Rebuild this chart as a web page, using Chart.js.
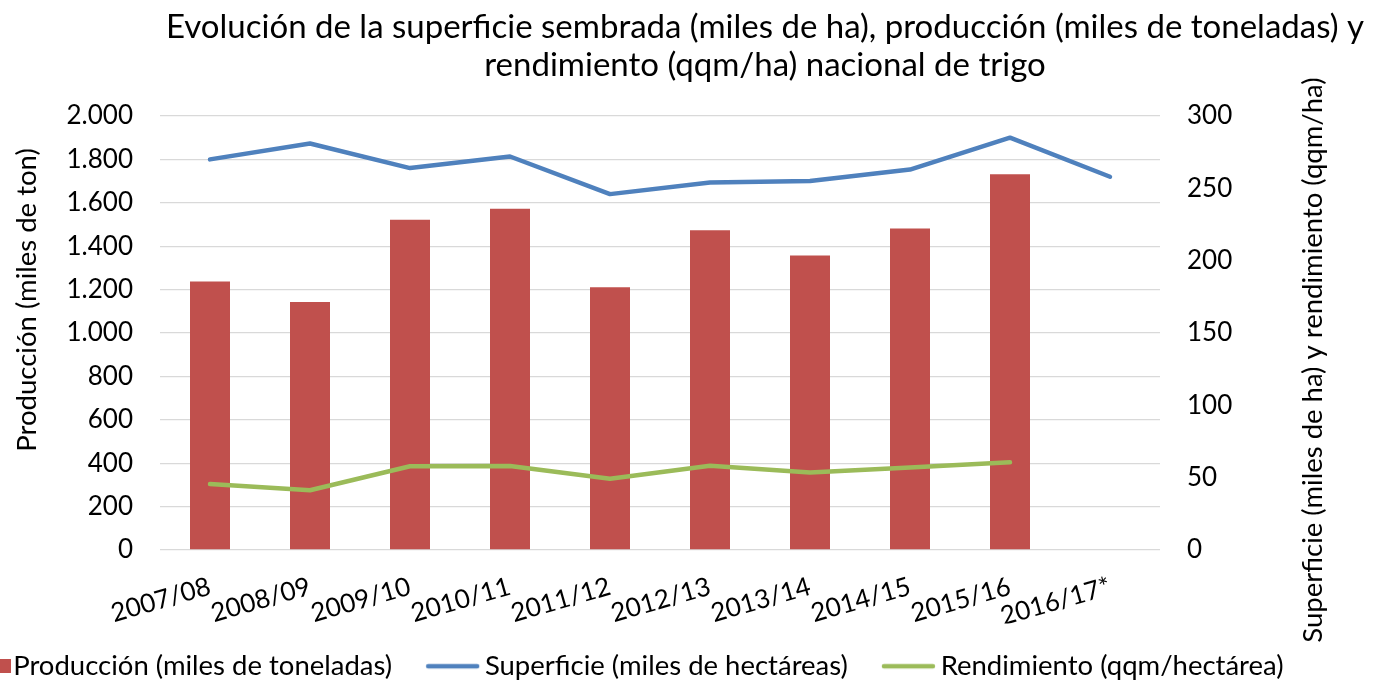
<!DOCTYPE html>
<html>
<head>
<meta charset="utf-8">
<script src="https://cdn.jsdelivr.net/npm/chart.js@4.4.1/dist/chart.umd.min.js"></script>
<style>
    html, body { margin: 0; padding: 0; background: #fff; }
    #wrap { width: 1374px; height: 684px; position: relative; }
</style>
</head>
<body>
<div id="wrap"><canvas id="trigoChart"></canvas></div>
<script>
const campaigns = ['2007/08', '2008/09', '2009/10', '2010/11', '2011/12', '2012/13', '2013/14', '2014/15', '2015/16', '2016/17*'];
const produccion = [1237, 1143, 1522, 1573, 1211, 1473, 1357, 1481, 1731, null];
const superficie = [270, 281, 264, 272, 246, 254, 255, 263, 285, 258];
const rendimiento = [45.6, 41.3, 57.9, 58.1, 49.3, 58.3, 53.5, 57.0, 60.6, null];

const leftTicks = [0, 200, 400, 600, 800, 1000, 1200, 1400, 1600, 1800, 2000];
const rightTicks = [0, 50, 100, 150, 200, 250, 300];
const titleLines = [
    'Evolución de la superficie sembrada (miles de ha), producción (miles de toneladas) y',
    'rendimiento (qqm/ha) nacional de trigo'
];
const leftTitle = 'Producción (miles de ton)';
const rightTitle = 'Superficie (miles de ha) y rendimiento (qqm/ha)';

const FONT = 'Lato, "Open Sans", sans-serif';
const RED = '#C0504D';
const BLUE = '#4F81BD';
const GREEN = '#9BBB59';

// legend swatches, pushed to the right end of a wider image so they sit close to the text
function makeSwatch(type, color) {
    let c = document.createElement('canvas');
    c.width = 74;
    c.height = 14;
    let ctx = c.getContext('2d');
    if (type === 'square') {
        ctx.fillStyle = color;
        ctx.fillRect(61, 0, 13, 14);
    } else {
        ctx.strokeStyle = color;
        ctx.lineWidth = 4.5;
        ctx.lineCap = 'round';
        ctx.beginPath();
        ctx.moveTo(19, 7);
        ctx.lineTo(68, 7);
        ctx.stroke();
    }
    return c;
}

const swatches = [makeSwatch('square', RED), makeSwatch('line', BLUE), makeSwatch('line', GREEN)];

// title and both axis titles (both read bottom-to-top in the source)
const textPlugin = {
    id: 'chartTexts',
    afterDraw(chart) {
        let ctx = chart.ctx;
        ctx.save();
        ctx.fillStyle = '#000';
        ctx.textAlign = 'center';
        ctx.textBaseline = 'middle';
        ctx.font = `33px ${FONT}`;
        ctx.fillText(titleLines[0], 765, 27);
        ctx.fillText(titleLines[1], 765, 65);

        ctx.font = `27.5px ${FONT}`;
        ctx.save();
        ctx.translate(27, 300);
        ctx.rotate(-Math.PI / 2);
        ctx.fillText(leftTitle, 0, 0);
        ctx.restore();

        ctx.save();
        ctx.translate(1313, 360);
        ctx.rotate(-Math.PI / 2);
        ctx.fillText(rightTitle, 0, 0);
        ctx.restore();
        ctx.restore();
    }
};

new Chart(document.getElementById('trigoChart'), {
    data: {
        labels: campaigns,
        datasets: [
            {
                type: 'line',
                label: 'Superficie (miles de hectáreas)',
                data: superficie,
                yAxisID: 'y1',
                borderColor: BLUE,
                backgroundColor: BLUE,
                borderWidth: 4.5,
                borderCapStyle: 'round',
                borderJoinStyle: 'round',
                pointRadius: 0,
                tension: 0,
                order: 1
            },
            {
                type: 'line',
                label: 'Rendimiento (qqm/hectárea)',
                data: rendimiento,
                yAxisID: 'y1',
                borderColor: GREEN,
                backgroundColor: GREEN,
                borderWidth: 4.5,
                borderCapStyle: 'round',
                borderJoinStyle: 'round',
                pointRadius: 0,
                tension: 0,
                order: 2
            },
            {
                type: 'bar',
                label: 'Producción (miles de toneladas)',
                data: produccion,
                yAxisID: 'y',
                backgroundColor: RED,
                borderWidth: 0,
                categoryPercentage: 1,
                barPercentage: 0.4,
                order: 3
            }
        ]
    },
    options: {
        responsive: true,
        maintainAspectRatio: false,
        animation: false,
        // negative left/bottom padding lets the legend run off the left edge like the source
        layout: { padding: { top: 116, left: -141, right: 0, bottom: -6 } },
        plugins: {
            title: { display: false },
            tooltip: { enabled: false },
            legend: {
                position: 'bottom',
                labels: {
                    usePointStyle: true,
                    pointStyleWidth: 50,
                    boxHeight: 14,
                    padding: 29,
                    color: '#000',
                    font: { family: FONT, size: 27.5 },
                    generateLabels: function (chart) {
                        let order = [2, 0, 1];
                        return order.map((idx, i) => ({
                            text: chart.data.datasets[idx].label,
                            pointStyle: swatches[i],
                            datasetIndex: idx,
                            fontColor: '#000',
                            hidden: false,
                            lineWidth: 0
                        }));
                    }
                }
            }
        },
        scales: {
            x: {
                grid: { display: false, drawTicks: false },
                border: { display: false },
                ticks: {
                    color: '#000',
                    font: { family: FONT, size: 26 },
                    minRotation: 16,
                    maxRotation: 16,
                    autoSkip: false,
                    padding: 21
                },
                afterFit: function (scale) { scale.height = 73.5; }
            },
            y: {
                position: 'left',
                min: 0,
                max: 2000,
                afterBuildTicks: function (scale) {
                    scale.ticks = leftTicks.map(v => ({ value: v }));
                },
                grid: { color: '#D9D9D9', lineWidth: 1.3, drawTicks: false },
                border: { display: false },
                ticks: {
                    color: '#000',
                    font: { family: FONT, size: 26 },
                    padding: 27,
                    callback: function (value) {
                        return value.toLocaleString('de-DE');
                    }
                },
                afterFit: function (scale) { scale.width = 301; }
            },
            y1: {
                position: 'right',
                min: 0,
                max: 300,
                afterBuildTicks: function (scale) {
                    scale.ticks = rightTicks.map(v => ({ value: v }));
                },
                grid: { display: false, drawTicks: false },
                border: { display: false },
                ticks: {
                    color: '#000',
                    font: { family: FONT, size: 26 },
                    padding: 27
                },
                afterFit: function (scale) { scale.width = 214; }
            }
        }
    },
    plugins: [textPlugin]
});
</script>
</body>
</html>
